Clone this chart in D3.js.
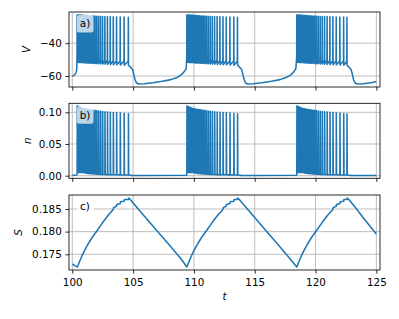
<!DOCTYPE html>
<html>
<head>
<meta charset="utf-8">
<script src="https://cdn.jsdelivr.net/npm/d3@7"></script>
<style>
  body { margin: 0; background: #fff; }
  text { font-family: "DejaVu Sans", sans-serif; }
</style>
</head>
<body>
<div id="chart"></div>
<script>
// spike times of the three bursts
const spikeT1 = [100.40, 100.45, 100.50, 100.555, 100.615, 100.675, 100.74, 100.81, 100.88, 100.955, 101.035, 101.12, 101.21, 101.305, 101.405, 101.51, 101.62, 101.74, 101.87, 102.01, 102.16, 102.32, 102.49, 102.68, 102.89, 103.12, 103.37, 103.64, 103.94, 104.26, 104.61];
const spikeT2 = [109.42, 109.47, 109.52, 109.575, 109.635, 109.695, 109.76, 109.83, 109.90, 109.975, 110.055, 110.14, 110.23, 110.325, 110.425, 110.53, 110.64, 110.76, 110.89, 111.03, 111.18, 111.34, 111.51, 111.70, 111.91, 112.14, 112.39, 112.66, 112.96, 113.28, 113.58];
const spikeT3 = [118.46, 118.51, 118.56, 118.615, 118.675, 118.735, 118.80, 118.87, 118.94, 119.015, 119.095, 119.18, 119.27, 119.365, 119.465, 119.57, 119.68, 119.80, 119.93, 120.07, 120.22, 120.38, 120.55, 120.74, 120.95, 121.18, 121.43, 121.70, 122.00, 122.31, 122.58];

// per-spike extremes, by spike number inside a burst
const vPeaks = [-22.8, -22.8, -22.8, -22.9, -22.9, -22.9, -23.0, -23.0, -23.0, -23.1, -23.1, -23.2, -23.2, -23.3, -23.3, -23.4, -23.4, -23.5, -23.5, -23.6, -23.6, -23.7, -23.7, -23.8, -23.8, -23.9, -23.9, -24.0, -24.0, -24.1, -24.2];
const vTroughs = [-51.6, -51.6, -51.6, -51.7, -51.7, -51.7, -51.8, -51.8, -51.8, -51.9, -51.9, -52.0, -52.0, -52.1, -52.1, -52.2, -52.2, -52.3, -52.4, -52.5, -52.5, -52.6, -52.7, -52.8, -52.9, -53.0, -53.1, -53.2, -53.3, -53.4, -53.5];
const nPeaks = [0.110, 0.1095, 0.109, 0.1085, 0.108, 0.1075, 0.107, 0.1065, 0.106, 0.1057, 0.1054, 0.1051, 0.1048, 0.1045, 0.1042, 0.1039, 0.1036, 0.1033, 0.103, 0.1026, 0.1022, 0.1018, 0.1014, 0.101, 0.1006, 0.1002, 0.0998, 0.0994, 0.099, 0.0982, 0.0975];
const nTroughs = [0.005, 0.005, 0.005, 0.005, 0.005, 0.005, 0.005, 0.005, 0.005, 0.005, 0.0045, 0.004, 0.004, 0.0035, 0.0035, 0.003, 0.003, 0.0028, 0.0026, 0.0024, 0.0022, 0.002, 0.0019, 0.0018, 0.0017, 0.0016, 0.0015, 0.0014, 0.0013, 0.0012, 0.0011];

// silent phases
const vQuietT = [100.00, 100.15, 100.28, 100.36,
  104.64, 104.79, 104.95, 105.06, 105.16, 105.29, 105.46, 105.91, 106.61, 107.41, 108.11, 108.61, 108.96, 109.21, 109.36,
  113.61, 113.76, 113.92, 114.03, 114.13, 114.26, 114.43, 114.88, 115.58, 116.38, 117.08, 117.58, 117.98, 118.23, 118.38,
  122.61, 122.76, 122.92, 123.03, 123.13, 123.26, 123.43, 123.88, 124.58, 125.00];
const vQuietV = [-60.1, -59.6, -58.4, -56.5,
  -53.6, -54.6, -56.0, -59.0, -62.3, -64.3, -64.9, -64.7, -64.1, -63.2, -62.2, -60.9, -59.3, -57.3, -55.5,
  -53.6, -54.6, -56.0, -59.0, -62.3, -64.3, -64.9, -64.7, -64.1, -63.2, -62.2, -60.9, -59.3, -57.3, -55.5,
  -53.6, -54.6, -56.0, -59.0, -62.3, -64.3, -64.9, -64.7, -64.1, -63.3];
const nQuietT = [100.00, 100.38, 104.66, 104.90, 105.50, 109.40, 113.63, 113.90, 114.50, 118.44, 122.63, 122.90, 123.50, 125.00];
const nQuietN = [0.0008, 0.0012, 0.0010, 0.0005, 0.0003, 0.0006, 0.0010, 0.0005, 0.0003, 0.0006, 0.0010, 0.0005, 0.0003, 0.0003];

// slow variable S
const sT = [100.00, 100.20, 100.42, 100.60, 100.85, 101.20, 101.60, 102.00, 102.50, 103.00, 103.37, 103.39, 103.64, 103.66, 103.94, 103.96, 104.26, 104.28, 104.61, 104.63, 104.80, 105.20, 106.00, 107.00, 108.00, 109.00, 109.42,
  109.60, 109.85, 110.20, 110.60, 111.00, 111.50, 112.00, 112.39, 112.41, 112.66, 112.68, 112.96, 112.98, 113.28, 113.30, 113.58, 113.60, 113.80, 114.20, 115.00, 116.00, 117.00, 118.00, 118.46,
  118.64, 118.89, 119.24, 119.64, 120.04, 120.54, 121.04, 121.43, 121.45, 121.70, 121.72, 122.00, 122.02, 122.31, 122.33, 122.58, 122.60, 122.80, 123.20, 124.00, 125.00];
const sV = [0.1729, 0.1725, 0.1722, 0.1734, 0.1750, 0.1768, 0.1786, 0.1801, 0.1820, 0.1838, 0.1849, 0.1853, 0.1856, 0.1860, 0.1862, 0.1866, 0.1867, 0.1871, 0.1871, 0.1874, 0.1870, 0.1857, 0.1832, 0.1801, 0.1770, 0.1738, 0.1722,
  0.1734, 0.1750, 0.1768, 0.1786, 0.1801, 0.1820, 0.1838, 0.1849, 0.1853, 0.1856, 0.1860, 0.1862, 0.1866, 0.1867, 0.1871, 0.1871, 0.1874, 0.1869, 0.1856, 0.1831, 0.1800, 0.1769, 0.1737, 0.1722,
  0.1734, 0.1750, 0.1768, 0.1786, 0.1801, 0.1820, 0.1838, 0.1849, 0.1853, 0.1856, 0.1860, 0.1862, 0.1866, 0.1867, 0.1871, 0.1871, 0.1874, 0.1869, 0.1856, 0.1828, 0.1795];

const xTicks = [100, 105, 110, 115, 120, 125];
const vTicks = [-60, -40];
const nTicks = [0.00, 0.05, 0.10];
const sTicks = [0.175, 0.180, 0.185];

const WIDTH = 399, HEIGHT = 319;
const LEFT = 69, RIGHT = 380;
const FONT = 10.4;
const BLUE = '#1f77b4';

const allSpikes = [spikeT1, spikeT2, spikeT3];

// V trace: silent samples plus three points per spike
let vPts = vQuietT.map((t, i) => [t, vQuietV[i]]);
allSpikes.forEach(times => {
    times.forEach((t, i) => {
        vPts.push([t - 0.01, vTroughs[i] + 2.5], [t, vPeaks[i]], [t + 0.012, vTroughs[i]]);
    });
});
vPts.sort((a, b) => a[0] - b[0]);

let nPts = nQuietT.map((t, i) => [t, nQuietN[i]]);
allSpikes.forEach(times => {
    times.forEach((t, i) => {
        nPts.push([t, nTroughs[i]], [t + 0.008, nPeaks[i]], [t + 0.03, nTroughs[i]]);
    });
});
nPts.sort((a, b) => a[0] - b[0]);

const sPts = sT.map((t, i) => [t, sV[i]]);

const panels = [
    {id: 'a', top: 12, domain: [-66.7, -21.0], ticks: vTicks, fmt: d3.format('d'), data: vPts,
     ylabel: 'V', ylabelX: 30, tag: 'a)', showX: false},
    {id: 'b', top: 103.3, domain: [-0.0041, 0.1142], ticks: nTicks, fmt: d3.format('.2f'), data: nPts,
     ylabel: 'n', ylabelX: 31, tag: 'b)', showX: false},
    {id: 'c', top: 195, domain: [0.17153, 0.18809], ticks: sTicks, fmt: d3.format('.3f'), data: sPts,
     ylabel: 'S', ylabelX: 21.7, tag: 'c)', showX: true}
];
const PANEL_H = 75;

const svg = d3.select('#chart').append('svg')
    .attr('width', WIDTH)
    .attr('height', HEIGHT)
    .style('background', '#fff');

const x = d3.scaleLinear().domain([99.73, 125.3]).range([LEFT, RIGHT]);

panels.forEach(p => {
    const bottom = p.top + PANEL_H;
    const y = d3.scaleLinear().domain(p.domain).range([bottom, p.top]);
    const g = svg.append('g').attr('class', 'panel-' + p.id);

    g.append('clipPath').attr('id', 'clip-' + p.id)
        .append('rect')
        .attr('x', LEFT).attr('y', p.top)
        .attr('width', RIGHT - LEFT).attr('height', PANEL_H);

    // grid
    g.append('g').selectAll('line').data(xTicks).enter()
        .append('line')
            .attr('x1', d => x(d)).attr('x2', d => x(d))
            .attr('y1', p.top).attr('y2', bottom)
            .attr('stroke', '#b0b0b0').attr('stroke-width', 0.83);
    g.append('g').selectAll('line').data(p.ticks).enter()
        .append('line')
            .attr('x1', LEFT).attr('x2', RIGHT)
            .attr('y1', d => y(d)).attr('y2', d => y(d))
            .attr('stroke', '#b0b0b0').attr('stroke-width', 0.83);

    const line = d3.line().x(d => x(d[0])).y(d => y(d[1]));
    g.append('path')
        .datum(p.data)
        .attr('clip-path', 'url(#clip-' + p.id + ')')
        .attr('d', line)
        .attr('fill', 'none')
        .attr('stroke', BLUE)
        .attr('stroke-width', 1.56)
        .attr('stroke-linejoin', 'round');

    // spines
    g.append('rect')
        .attr('x', LEFT).attr('y', p.top)
        .attr('width', RIGHT - LEFT).attr('height', PANEL_H)
        .attr('fill', 'none').attr('stroke', '#000').attr('stroke-width', 0.83);

    const xAxis = d3.axisBottom(x).tickValues(xTicks).tickSize(3.6).tickSizeOuter(0).tickPadding(5.5)
        .tickFormat(p.showX ? d3.format('d') : () => '');
    const yAxis = d3.axisLeft(y).tickValues(p.ticks).tickSize(3.6).tickSizeOuter(0).tickPadding(3.6)
        .tickFormat(p.fmt);

    [g.append('g').attr('transform', `translate(0,${bottom})`).call(xAxis),
     g.append('g').attr('transform', `translate(${LEFT},0)`).call(yAxis)].forEach(ax => {
        ax.select('.domain').remove();
        ax.selectAll('line').attr('stroke', '#000').attr('stroke-width', 0.83);
        ax.selectAll('text').attr('fill', '#000').style('font-size', FONT + 'px')
            .style('font-family', '"DejaVu Sans", sans-serif');
    });

    g.append('text')
        .attr('transform', `translate(${p.ylabelX},${p.top + PANEL_H / 2}) rotate(-90)`)
        .attr('text-anchor', 'middle')
        .style('font-size', FONT + 'px')
        .style('font-style', 'italic')
        .text(p.ylabel);

    // panel tag with a see-through white box
    g.append('rect')
        .attr('x', 77).attr('y', p.top + 3)
        .attr('width', 16.5).attr('height', 17.5)
        .attr('rx', 2)
        .attr('fill', '#fff').attr('fill-opacity', 0.7);
    g.append('text')
        .attr('x', 85).attr('y', p.top + 15.3)
        .attr('text-anchor', 'middle')
        .style('font-size', FONT + 'px')
        .text(p.tag);
});

svg.append('text')
    .attr('x', (LEFT + RIGHT) / 2)
    .attr('y', 300.3)
    .attr('text-anchor', 'middle')
    .style('font-size', FONT + 'px')
    .style('font-style', 'italic')
    .text('t');
</script>
</body>
</html>
